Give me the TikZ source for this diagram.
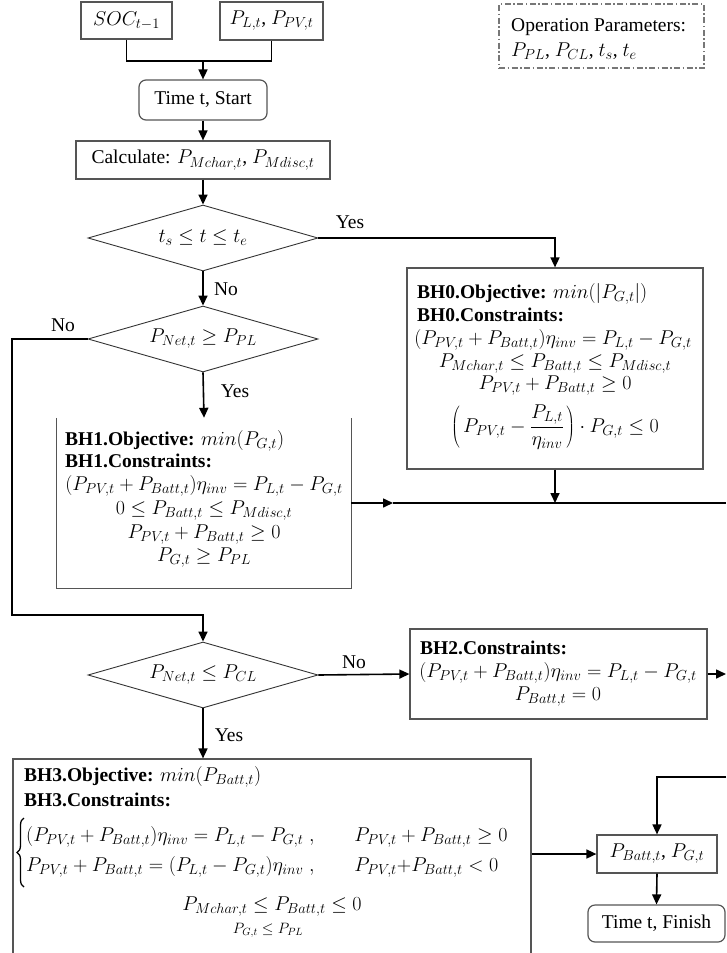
\RequirePackage{fix-cm}
\documentclass[tikz,border=0pt]{standalone}
\usepackage{fontspec}
\setmainfont{Liberation Serif}
\usetikzlibrary{arrows.meta,shapes.geometric,decorations.pathreplacing}
\DeclareMathSizes{19.5}{20}{14.5}{10.5}
\definecolor{boxgray}{HTML}{555555}
\definecolor{edgedark}{HTML}{333333}
\definecolor{dashgray}{HTML}{777777}
\begin{document}
\begin{tikzpicture}[x=1pt,y=-1pt,
  every node/.style={font=\fontsize{19.5}{22}\selectfont, inner sep=0pt},
  box/.style={draw=boxgray, line width=1.2pt},
  boxline/.style={draw=boxgray, line width=1.2pt},
  roundbox/.style={box, rounded corners=7pt},
  decision/.style={diamond, draw=edgedark, line width=0.9pt, minimum width=230pt,
    minimum height=66pt, shape aspect=3.5},
  conn/.style={draw=black, line width=1.6pt},
  arr/.style={conn, -{Triangle[length=10pt,width=9pt]}},
  lbl/.style={font=\fontsize{19.5}{22}\selectfont},
  txt/.style={anchor=base},
  ltxt/.style={anchor=base west},
  small/.style={font=\fontsize{15}{18}\selectfont},
  casebrace/.style={draw=black, line width=1.3pt, decorate,
    decoration={brace, amplitude=7pt}}
]
\useasboundingbox (0,0) rectangle (726,953);

% inputs and start
\node[box, minimum width=91pt, minimum height=37pt] (soc) at (126.5,20.5) {$SOC_{t-1}$};
\node[box, minimum width=103pt, minimum height=38pt] (pl) at (271.5,21) {$P_{L,t}$, $P_{PV,t}$};
\coordinate (j0) at (203,61);
\node[roundbox, minimum width=128pt, minimum height=40pt] (start) at (203,100) {Time t, Start};
\node[box, minimum width=254pt, minimum height=38pt] (calc) at (203,160) {Calculate: $P_{Mchar,t}$, $P_{Mdisc,t}$};

% operation parameters
\node[draw=dashgray, line width=1.1pt, dash pattern=on 6pt off 2.5pt on 1.5pt off 2.5pt,
  minimum width=205pt, minimum height=64pt] (ops) at (601.5,36) {};
\node[ltxt] (opsa) at (511,31) {Operation Parameters:};
\node[ltxt] (opsb) at (511,56) {$P_{PL}$, $P_{CL}$, $t_s$, $t_e$};

% decisions
\node[decision] (d1) at (203,238) {$t_s\le t\le t_e$};
\node[decision] (d2) at (203,339) {$P_{Net,t}\ge P_{PL}$};
\node[decision] (d3) at (203,675) {$P_{Net,t}\le P_{CL}$};

% BH0
\node[box, minimum width=296pt, minimum height=201pt] (bh0) at (555,368.5) {};
\node[ltxt] (bh0a) at (417,298) {\textbf{BH0.Objective:} $min\bigl(\bigl|P_{G,t}\bigr|\bigr)$};
\node[ltxt] (bh0b) at (417,321) {\textbf{BH0.Constraints:}};
\node[txt] (bh0c) at (553,344) {$\bigl(P_{PV,t}+P_{Batt,t}\bigr)\eta_{inv}=P_{L,t}-P_{G,t}$};
\node[txt] (bh0d) at (555,367) {$P_{Mchar,t}\le P_{Batt,t}\le P_{Mdisc,t}$};
\node[txt] (bh0e) at (555,389) {$P_{PV,t}+P_{Batt,t}\ge 0$};
\node[txt] (bh0f) at (555,432) {$\displaystyle\left(\mkern3mu P_{PV,t}-\frac{P_{L,t}}{\eta_{inv}}\mkern2mu\right)\cdot P_{G,t}\le 0$};

% BH1 (open at the top)
\node[minimum width=294pt, minimum height=170pt] (bh1) at (204,503) {};
\draw[boxline] (bh1.north west) -- (bh1.south west) -- (bh1.south east) -- (bh1.north east);
\node[ltxt] (bh1a) at (65,445) {\textbf{BH1.Objective:} $min\bigl(P_{G,t}\bigr)$};
\node[ltxt] (bh1b) at (65,467) {\textbf{BH1.Constraints:}};
\node[txt] (bh1c) at (204,490) {$\bigl(P_{PV,t}+P_{Batt,t}\bigr)\eta_{inv}=P_{L,t}-P_{G,t}$};
\node[txt] (bh1d) at (204,514) {$0\le P_{Batt,t}\le P_{Mdisc,t}$};
\node[txt] (bh1e) at (204,538) {$P_{PV,t}+P_{Batt,t}\ge 0$};
\node[txt] (bh1f) at (204,561) {$P_{G,t}\ge P_{PL}$};

% BH2
\node[box, minimum width=297pt, minimum height=90pt] (bh2) at (558.5,674) {};
\node[ltxt] (bh2a) at (420,654) {\textbf{BH2.Constraints:}};
\node[txt] (bh2b) at (558,677) {$\bigl(P_{PV,t}+P_{Batt,t}\bigr)\eta_{inv}=P_{L,t}-P_{G,t}$};
\node[txt] (bh2c) at (558,700) {$P_{Batt,t}=0$};

% BH3 (runs past the lower edge)
\node[box, minimum width=518pt, minimum height=206pt] (bh3) at (272,862) {};
\node[ltxt] (bh3a) at (24,781) {\textbf{BH3.Objective:} $min\bigl(P_{Batt,t}\bigr)$};
\node[ltxt] (bh3b) at (24,806) {\textbf{BH3.Constraints:}};
\node[anchor=west] (bh3c) at (26,852) {$\begin{array}{@{}c@{\hspace{40pt}}l@{}}
  \bigl(P_{PV,t}+P_{Batt,t}\bigr)\eta_{inv}=P_{L,t}-P_{G,t}\;, & P_{PV,t}+P_{Batt,t}\ge 0\\[8pt]
  P_{PV,t}+P_{Batt,t}=\bigl(P_{L,t}-P_{G,t}\bigr)\eta_{inv}\;, & P_{PV,t}{+}P_{Batt,t}<0
  \end{array}$};
\coordinate (braceLo) at (24,887);
\coordinate (braceHi) at (24,818);
\draw[casebrace] (braceLo) -- (braceHi);
\node[txt] (bh3d) at (272,910) {$P_{Mchar,t}\le P_{Batt,t}\le 0$};
\node[txt, small] (bh3e) at (268,933) {$P_{G,t}\le P_{PL}$};

% result and finish
\node[box, minimum width=120pt, minimum height=38pt] (pbox) at (657,854) {$P_{Batt,t}$, $P_{G,t}$};
\node[roundbox, minimum width=137pt, minimum height=37pt] (finish) at (656.5,923.5) {Time t, Finish};

% connectors
\draw[conn] (soc.south) |- (j0);
\draw[conn] (pl.south) |- (j0);
\draw[arr] (j0) -- (start.north);
\draw[arr] (start.south) -- (calc.north);
\draw[arr] (calc.south) -- (d1.north);

\draw[arr] (d1.east) -| (bh0.north);
\node[lbl] (yes1) at (350,222) {Yes};

\draw[arr] (d1.south) -- (d2.north);
\node[lbl] (no1) at (226,289) {No};

\draw[arr] (d2.south) -- (bh1.north);
\node[lbl] (yes2) at (235,391) {Yes};

\coordinate (bendA) at (12,615);
\draw[arr] (d2.west) -| (bendA) -| (d3.north);
\node[lbl] (no2) at (63,325) {No};

\coordinate (j1) at (555,503);
\coordinate (m1) at (393,503);
\coordinate (edge1) at (726,503);
\draw[arr] (bh0.south) -- (j1);
\draw[arr] (bh1.east |- j1) -- (m1);
\draw[conn] (m1) -- (edge1);

\draw[arr] (d3.east) -- (bh2.west);
\node[lbl] (no3) at (354,662) {No};
\coordinate (edge2) at (726,674);
\draw[arr] (bh2.east) -- (edge2);

\draw[arr] (d3.south) -- (d3.south |- bh3.north);
\node[lbl] (yes3) at (229,735) {Yes};

\draw[arr] (bh3.east |- pbox.west) -- (pbox.west);
\coordinate (edge3) at (726,777);
\draw[arr] (edge3) -| (pbox.north);
\draw[arr] (pbox.south) -- (finish.north);
\end{tikzpicture}
\end{document}
